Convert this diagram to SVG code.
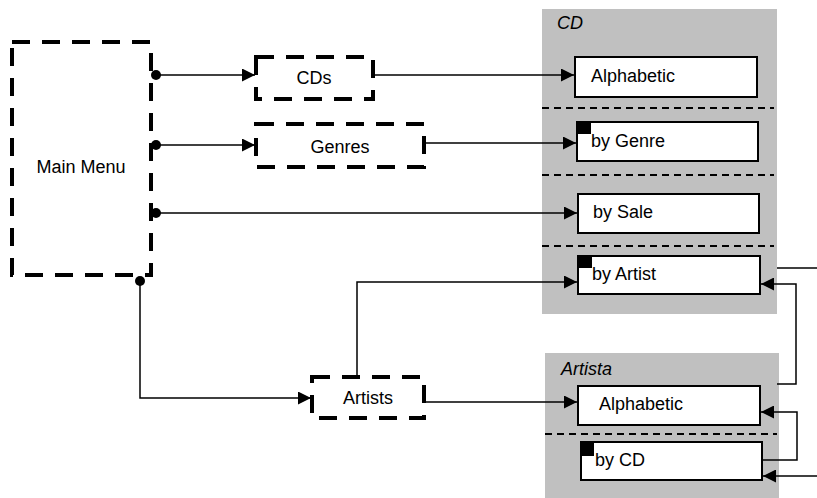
<svg xmlns="http://www.w3.org/2000/svg" width="817" height="498" viewBox="0 0 817 498">
<defs>
<style>
text{font-family:"Liberation Sans",Arial,sans-serif;font-size:18px;fill:#000}
.it{font-style:italic}
.dash{fill:#fff;stroke:#000;stroke-width:4;stroke-dasharray:18 12}
.panel{fill:#c0c0c0;stroke:none}
.box{fill:#fff;stroke:#000;stroke-width:2}
.sep{fill:none;stroke:#000;stroke-width:2;stroke-dasharray:7 5}
.flag{fill:#000}
.conn{fill:none;stroke:#000;stroke-width:1.5}
.arr{marker-end:url(#ah)}
.dot{marker-start:url(#dt)}
</style>
<marker id="ah" markerUnits="userSpaceOnUse" markerWidth="13" markerHeight="13" refX="13" refY="6.5" orient="auto"><path d="M0,0 L13,6.5 L0,13 z" fill="#000"/></marker>
<marker id="dt" markerUnits="userSpaceOnUse" markerWidth="12" markerHeight="12" refX="6" refY="6" orient="auto"><circle cx="6" cy="6" r="5" fill="#000"/></marker>
</defs>
<g id="cd-panel">
<rect class="panel" x="542" y="9" width="235" height="305"/>
<text class="it" x="557" y="29">CD</text>
<line class="sep" x1="542" y1="108" x2="774" y2="108"/>
<line class="sep" x1="542" y1="175" x2="774" y2="175"/>
<line class="sep" x1="542" y1="246" x2="774" y2="246"/>
</g>
<g id="artista-panel">
<rect class="panel" x="545" y="353" width="234" height="145"/>
<text class="it" x="561" y="375">Artista</text>
<line class="sep" x1="545" y1="434" x2="777" y2="434"/>
</g>
<g id="main-menu">
<rect class="dash" x="12" y="42" width="139" height="233"/>
<text x="81" y="173" text-anchor="middle">Main Menu</text>
</g>
<g id="cds">
<rect class="dash" x="256" y="57" width="117" height="42"/>
<text x="314" y="84" text-anchor="middle">CDs</text>
</g>
<g id="genres">
<rect class="dash" x="256" y="124" width="168" height="43"/>
<text x="340" y="153" text-anchor="middle">Genres</text>
</g>
<g id="artists">
<rect class="dash" x="312" y="377" width="112" height="41"/>
<text x="368" y="404" text-anchor="middle">Artists</text>
</g>
<g id="cd-alphabetic">
<rect class="box" x="575" y="57" width="182" height="40"/>
<text x="591" y="82">Alphabetic</text>
</g>
<g id="cd-by-genre">
<rect class="box" x="577" y="122" width="181" height="39"/>
<rect class="flag" x="577" y="122" width="14" height="12"/>
<text x="591" y="147">by Genre</text>
</g>
<g id="cd-by-sale">
<rect class="box" x="578" y="194" width="181" height="39"/>
<text x="593" y="218">by Sale</text>
</g>
<g id="cd-by-artist">
<rect class="box" x="578" y="256" width="182" height="38"/>
<rect class="flag" x="578" y="256" width="14" height="12"/>
<text x="592" y="280">by Artist</text>
</g>
<g id="artista-alphabetic">
<rect class="box" x="578" y="386" width="182" height="39"/>
<text x="599" y="410">Alphabetic</text>
</g>
<g id="artista-by-cd">
<rect class="box" x="581" y="442" width="181" height="38"/>
<rect class="flag" x="581" y="443" width="13" height="13"/>
<text x="595" y="466">by CD</text>
</g>
<g id="connectors">
<path class="conn dot arr" d="M156,75 H255"/>
<path class="conn dot arr" d="M156,145 H255"/>
<path class="conn dot arr" d="M156,213 H577"/>
<path class="conn dot arr" d="M140,281 V398 H311"/>
<path class="conn arr" d="M373,75 H574"/>
<path class="conn arr" d="M424,143 H576"/>
<path class="conn arr" d="M357,377 V282 H577"/>
<path class="conn arr" d="M424,402 H577"/>
<path class="conn arr" d="M777,384 H796 V284 H761"/>
<path class="conn" d="M777,268 H817"/>
<path class="conn arr" d="M762,460 H797 V412 H761"/>
<path class="conn arr" d="M817,476 H763"/>
</g>
</svg>
